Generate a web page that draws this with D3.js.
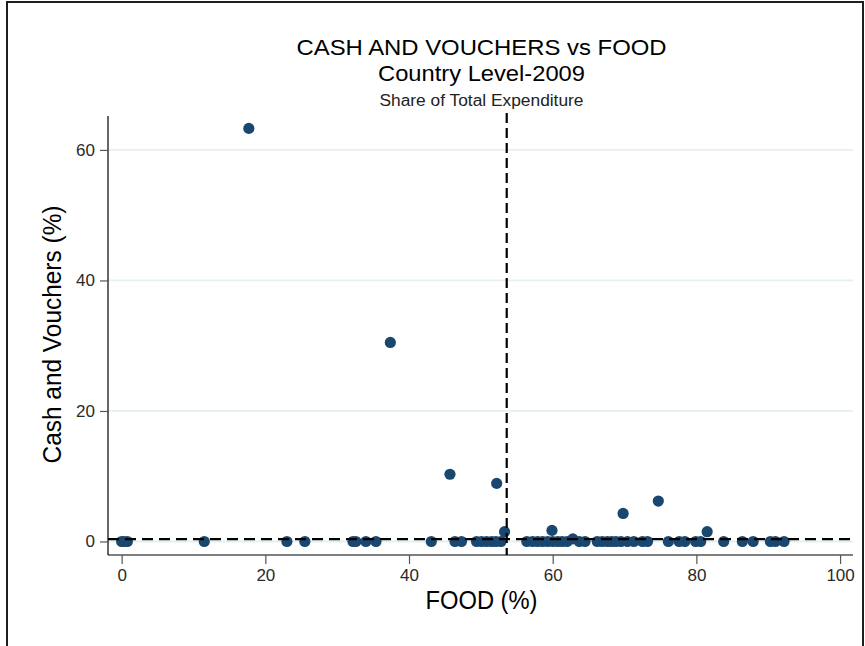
<!DOCTYPE html>
<html>
<head>
<meta charset="utf-8">
<script src="https://cdn.jsdelivr.net/npm/d3@7"></script>
<style>
  html, body { margin: 0; padding: 0; background: #ffffff; }
  svg { display: block; }
  text { font-family: "Liberation Sans", Arial, sans-serif; }
</style>
</head>
<body>
<svg id="chart" width="865" height="646"></svg>
<script>
// Food share (%) and cash & voucher share (%) of total expenditure, by country, 2009
const foodShare = [
  0.0, 0.3, 0.8, 11.5, 17.7, 23.0, 25.5, 32.2, 32.6, 34.0, 35.4, 37.4,
  43.1, 45.7, 46.4, 47.3, 49.4, 50.1, 50.8, 51.5, 52.1, 52.2, 52.8, 53.3,
  56.4, 57.2, 57.9, 58.6, 59.3, 59.9, 60.0, 60.7, 61.3, 62.0, 62.8, 63.7, 64.5,
  66.2, 66.9, 67.6, 68.2, 68.8, 69.5, 69.8, 70.4, 71.3, 72.5, 73.2, 74.7,
  76.1, 77.6, 78.4, 79.9, 80.6, 81.5, 83.8, 86.4, 87.9, 90.3, 91.0, 92.2
];
const cashShare = [
  0, 0, 0, 0, 63.3, 0, 0, 0, 0, 0, 0, 30.5,
  0, 10.3, 0, 0, 0, 0, 0, 0, 0, 8.9, 0, 1.5,
  0, 0, 0, 0, 0, 1.7, 0, 0, 0, 0, 0.4, 0, 0,
  0, 0, 0, 0, 0, 0, 4.3, 0, 0, 0, 0, 6.2,
  0, 0, 0, 0, 0, 1.5, 0, 0, 0, 0, 0, 0
];
// Reference lines
const foodRef = 53.6;
const cashRef = 0.35;

const xTicks = [0, 20, 40, 60, 80, 100];
const yTicks = [0, 20, 40, 60];

const titleLines = ["CASH AND VOUCHERS vs FOOD", "Country Level-2009"];
const subtitle = "Share of Total Expenditure";
const xLabel = "FOOD (%)";
const yLabel = "Cash and Vouchers (%)";

const points = foodShare.map((f, i) => ({ food: f, cash: cashShare[i] }));

const svg = d3.select("#chart");
const plot = { left: 108, right: 853, top: 114, bottom: 555 };

const x = d3.scaleLinear().domain([-1.9, 101.8]).range([plot.left, plot.right]);
const y = d3.scaleLinear().domain([-2.07, 65.2]).range([plot.bottom, plot.top + 2]);

const navy = "#1a476f";

// outer frame
svg.append("rect")
  .attr("x", 7).attr("y", 2)
  .attr("width", 856).attr("height", 700)
  .attr("fill", "none")
  .attr("stroke", "#1e1e1e")
  .attr("stroke-width", 2);

// horizontal gridlines
svg.append("g")
  .selectAll("line")
  .data(yTicks)
  .join("line")
  .attr("x1", plot.left).attr("x2", plot.right)
  .attr("y1", d => y(d)).attr("y2", d => y(d))
  .attr("stroke", "#e6eff1")
  .attr("stroke-width", 1.8);

// y axis
const yAxis = svg.append("g")
  .attr("transform", `translate(${plot.left},0)`)
  .call(d3.axisLeft(y).tickValues(yTicks).tickSize(8).tickPadding(5).tickFormat(d3.format("d")));
yAxis.select(".domain")
  .attr("d", `M0,${plot.top + 2}V${plot.bottom}`)
  .attr("stroke", "#000").attr("stroke-width", 1.2);
yAxis.selectAll(".tick line").attr("stroke", "#555").attr("stroke-width", 1.2);
yAxis.selectAll(".tick text")
  .attr("font-size", 17).attr("fill", "#2a2a2a")
  .attr("font-family", "Liberation Sans, Arial, sans-serif");

// x axis
const xAxis = svg.append("g")
  .attr("transform", `translate(0,${plot.bottom})`)
  .call(d3.axisBottom(x).tickValues(xTicks).tickSize(9).tickPadding(5).tickFormat(d3.format("d")));
xAxis.select(".domain")
  .attr("d", `M${plot.left},0H${plot.right}`)
  .attr("stroke", "#000").attr("stroke-width", 1.2);
xAxis.selectAll(".tick line").attr("stroke", "#555").attr("stroke-width", 1.2);
xAxis.selectAll(".tick text")
  .attr("font-size", 17).attr("fill", "#2a2a2a")
  .attr("font-family", "Liberation Sans, Arial, sans-serif");

// points
svg.append("g")
  .selectAll("circle")
  .data(points)
  .join("circle")
  .attr("cx", d => x(d.food))
  .attr("cy", d => y(d.cash))
  .attr("r", 5.6)
  .attr("fill", navy);

// reference lines
svg.append("line")
  .attr("x1", plot.left).attr("x2", plot.right)
  .attr("y1", y(cashRef)).attr("y2", y(cashRef))
  .attr("stroke", "#000").attr("stroke-width", 2.2)
  .attr("stroke-dasharray", "11,6");
svg.append("line")
  .attr("x1", x(foodRef)).attr("x2", x(foodRef))
  .attr("y1", plot.top - 1).attr("y2", plot.bottom)
  .attr("stroke", "#000").attr("stroke-width", 2.2)
  .attr("stroke-dasharray", "10,5");

// titles
const cx = (plot.left + plot.right) / 2 + 1;
svg.append("text")
  .attr("x", cx).attr("y", 55)
  .attr("text-anchor", "middle")
  .attr("font-size", 22)
  .attr("textLength", 370).attr("lengthAdjust", "spacingAndGlyphs")
  .attr("fill", "#000")
  .text(titleLines[0]);
svg.append("text")
  .attr("x", cx).attr("y", 81)
  .attr("text-anchor", "middle")
  .attr("font-size", 22)
  .attr("textLength", 207).attr("lengthAdjust", "spacingAndGlyphs")
  .attr("fill", "#000")
  .text(titleLines[1]);
svg.append("text")
  .attr("x", cx).attr("y", 106)
  .attr("text-anchor", "middle")
  .attr("font-size", 16)
  .attr("textLength", 204).attr("lengthAdjust", "spacingAndGlyphs")
  .attr("fill", "#222")
  .text(subtitle);

// axis titles
svg.append("text")
  .attr("x", cx).attr("y", 609)
  .attr("text-anchor", "middle")
  .attr("font-size", 25)
  .attr("textLength", 112).attr("lengthAdjust", "spacingAndGlyphs")
  .attr("fill", "#000")
  .text(xLabel);
svg.append("text")
  .attr("transform", `translate(61,${(plot.top + plot.bottom) / 2}) rotate(-90)`)
  .attr("text-anchor", "middle")
  .attr("font-size", 25)
  .attr("textLength", 258).attr("lengthAdjust", "spacingAndGlyphs")
  .attr("fill", "#000")
  .text(yLabel);
</script>
</body>
</html>
